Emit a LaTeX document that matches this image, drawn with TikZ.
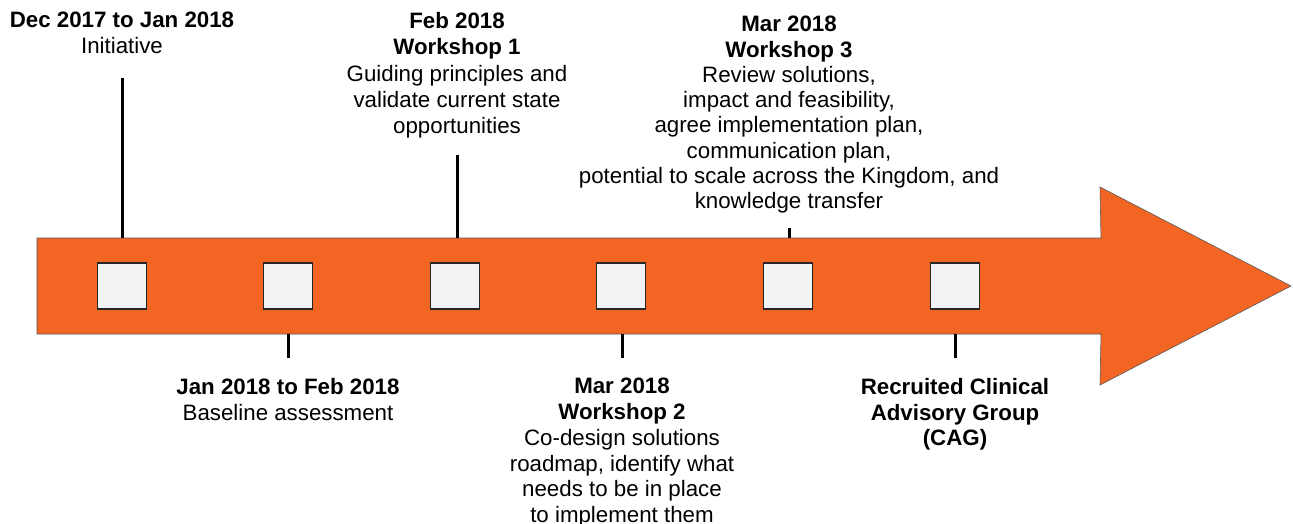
\documentclass[tikz,border=0pt]{standalone}
\usepackage{fontspec}
\setmainfont{Liberation Sans}
\definecolor{arrorange}{HTML}{F26522}
\definecolor{sqfill}{HTML}{F2F3F4}
\begin{document}
\begin{tikzpicture}[x=1pt,y=-1pt,
  lab/.style={align=center, inner sep=0pt, anchor=north, font=\fontsize{22.3}{25.8}\selectfont},
  sq/.style={draw=black!85, fill=sqfill, line width=1.2pt, minimum width=49pt, minimum height=46pt, inner sep=0pt},
  tick/.style={line width=3pt}]
\useasboundingbox (0,0) rectangle (1293,523);
% arrow
\draw[fill=arrorange, draw=black!65, line width=0.6pt]
  (37,238) -- (1101,238) -- (1100,187) -- (1291,286) -- (1100,385) -- (1101,334) -- (37,334) -- cycle;
% squares
\foreach \i/\x in {1/122,2/288,3/455,4/621,5/788,6/955}
  \node[sq] (s\i) at (\x,286) {};
% tick coordinates
\coordinate (a1) at (122,238); \coordinate (b1) at (122,78);
\coordinate (a2) at (288,334); \coordinate (b2) at (288,358);
\coordinate (a3) at (457,238); \coordinate (b3) at (457,155);
\coordinate (a4) at (622,334); \coordinate (b4) at (622,358);
\coordinate (a5) at (789,238); \coordinate (b5) at (789,228);
\coordinate (a6) at (955,334); \coordinate (b6) at (955,358);
\foreach \i in {1,...,6} \draw[tick] (a\i) -- (b\i);
% labels
\node[lab] (l1) at (122,12) {\textbf{Dec 2017 to Jan 2018}\\Initiative};
\node[lab] (l2) at (288,378) {\textbf{Jan 2018 to Feb 2018}\\Baseline assessment};
\node[lab, font=\fontsize{22.3}{26.4}\selectfont] (l3) at (457,12) {\textbf{Feb 2018}\\\textbf{Workshop 1}\\Guiding principles and\\validate current state\\opportunities};
\node[lab] (l4) at (622,378) {\textbf{Mar 2018}\\\textbf{Workshop 2}\\Co-design solutions\\roadmap, identify what\\needs to be in place\\to implement them};
\node[lab, font=\fontsize{22.3}{25.3}\selectfont] (l5) at (789,16) {\textbf{Mar 2018}\\\textbf{Workshop 3}\\Review solutions,\\impact and feasibility,\\agree implementation plan,\\communication plan,\\potential to scale across the Kingdom, and\\knowledge transfer};
\node[lab] (l6) at (955,378) {\textbf{Recruited Clinical}\\\textbf{Advisory Group}\\\textbf{(CAG)}};
\end{tikzpicture}
\end{document}
